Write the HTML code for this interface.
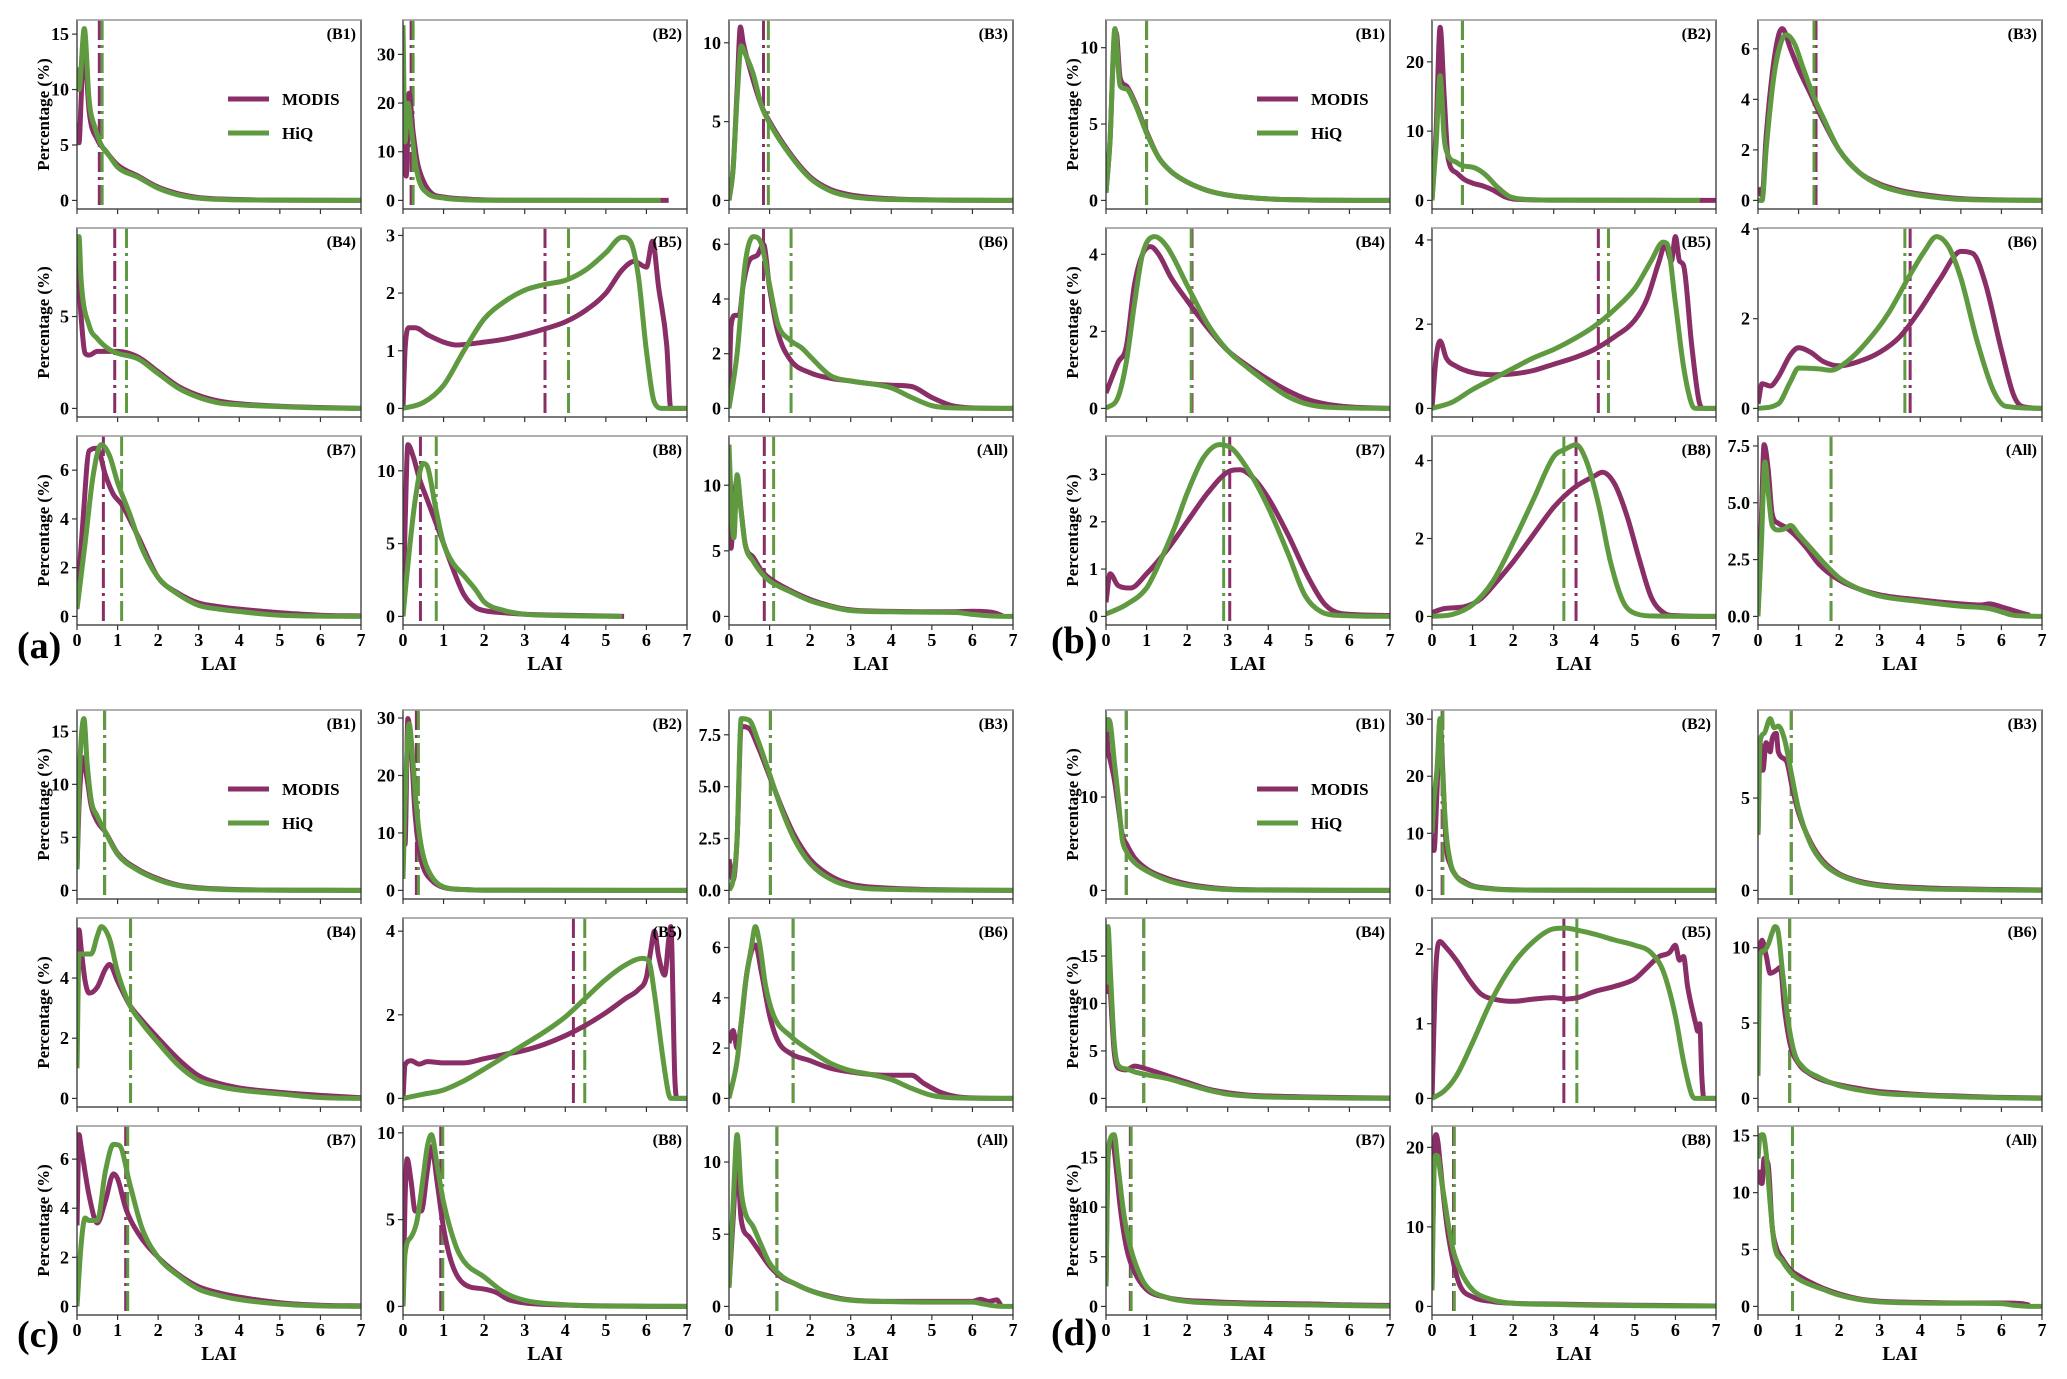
<!DOCTYPE html>
<html><head><meta charset="utf-8"><title>LAI distributions</title>
<style>
html,body{margin:0;padding:0;background:#fff;}
svg{display:block;font-family:"Liberation Serif",serif;font-weight:bold;}
</style></head>
<body>
<svg id="fig" width="2067" height="1379" viewBox="0 0 2067 1379" xmlns="http://www.w3.org/2000/svg"></svg>
<script>
// ---------- data ----------
const subplotNames = ["B1","B2","B3","B4","B5","B6","B7","B8","All"];
const panelNames = ["a","b","c","d"];
const xTicks = [0,1,2,3,4,5,6,7];

// y data maximum per subplot (axis spans -5% .. +105%)
const yMaxA = [15.5,35.3,10.9,9.35,2.98,6.28,7.05,11.8,13.1];
const yMaxB = [11.25,24.8,6.8,4.46,4.08,3.83,3.63,4.41,7.56];
const yMaxC = [16.2,29.9,8.28,5.71,4.11,6.83,7.0,9.9,11.9];
const yMaxD = [18.4,30.1,9.3,18.1,2.3,11.4,17.3,21.6,15.1];

const yTicksA = [[0,5,10,15],[0,10,20,30],[0,5,10],[0,5],[0,1,2,3],[0,2,4,6],[0,2,4,6],[0,5,10],[0,5,10]];
const yTicksB = [[0,5,10],[0,10,20],[0,2,4,6],[0,2,4],[0,2,4],[0,2,4],[0,1,2,3],[0,2,4],["0.0","2.5","5.0","7.5"]];
const yTicksC = [[0,5,10,15],[0,10,20,30],["0.0","2.5","5.0","7.5"],[0,2,4],[0,2,4],[0,2,4,6],[0,2,4,6],[0,5,10],[0,5,10]];
const yTicksD = [[0,10],[0,10,20,30],[0,5],[0,5,10,15],[0,1,2],[0,5,10],[0,5,10,15],[0,10,20],[0,5,10,15]];

const vlineModisA = [0.55,0.2,0.85,0.93,3.5,0.85,0.65,0.43,0.87];
const vlineHiqA   = [0.62,0.25,0.97,1.22,4.08,1.53,1.1,0.82,1.1];
const vlineModisB = [1.0,0.75,1.43,2.12,4.1,3.75,3.05,3.55,1.8];
const vlineHiqB   = [1.0,0.75,1.38,2.1,4.35,3.62,2.9,3.25,1.8];
const vlineModisC = [0.68,0.33,1.02,1.32,4.2,1.58,1.2,0.93,1.18];
const vlineHiqC   = [0.68,0.38,1.02,1.32,4.48,1.58,1.25,0.98,1.18];
const vlineModisD = [0.5,0.25,0.82,0.93,3.25,0.78,0.6,0.53,0.85];
const vlineHiqD   = [0.5,0.27,0.82,0.93,3.57,0.78,0.62,0.55,0.85];

// curves: flat [lai, percent, lai, percent, ...]
const modisA = [
 [0,7,0.05,5.2,0.1,9,0.15,13,0.22,12,0.3,8,0.5,5.5,0.7,4.5,1,3.2,1.5,2.2,2,1.2,2.5,0.6,3,0.25,4,0.08,5,0.03,7,0],
 [0,12,0.08,5,0.15,22,0.25,14,0.35,8,0.5,4,0.7,1.5,1,0.7,1.5,0.3,2,0.1,3,0.02,6.55,0],
 [0,0,0.1,2,0.2,7,0.28,11,0.35,10,0.5,8.5,0.8,6,1,5,1.5,3,2,1.5,2.5,0.7,3,0.35,4,0.1,5,0.03,7,0],
 [0,8.5,0.1,5,0.2,3,0.3,2.9,0.5,3.1,1,3.1,1.5,2.8,2,2,2.5,1.2,3,0.7,3.5,0.4,4,0.25,5,0.12,6,0.05,7,0],
 [0,0,0.05,1,0.15,1.4,0.3,1.4,0.6,1.28,1,1.15,1.3,1.1,2,1.15,2.5,1.2,3,1.28,3.5,1.38,4,1.5,4.5,1.7,5,2,5.4,2.4,5.7,2.55,6,2.45,6.15,2.9,6.3,2.1,6.5,1.1,6.6,0,7,0],
 [0,0.3,0.05,3,0.15,3.4,0.25,3.4,0.35,4.5,0.5,5.4,0.7,5.6,0.85,6,1,4.4,1.2,2.8,1.5,1.8,2,1.3,2.5,1.1,3,1,3.5,0.9,4,0.85,4.5,0.8,5,0.4,5.5,0.1,6,0.02,7,0],
 [0,0.5,0.15,4,0.3,6.8,0.5,6.9,0.7,5.8,0.9,5,1.1,4.6,1.5,3.3,2,1.6,2.5,0.95,3,0.55,3.5,0.4,4,0.3,5,0.15,6,0.05,7,0.02],
 [0,0,0.05,6,0.12,11.8,0.25,11,0.4,9.5,0.6,8,0.8,6.5,1,5,1.2,3.5,1.5,1.5,1.8,0.6,2,0.4,2.5,0.25,3,0.15,4,0.08,5,0.03,5.45,0],
 [0,8,0.05,5.2,0.12,8.5,0.2,10.5,0.3,8,0.4,5.5,0.6,4.5,0.8,3.5,1,2.9,1.5,2,2,1.3,2.5,0.8,3,0.5,4,0.38,5,0.35,5.5,0.35,6,0.4,6.2,0.38,6.5,0.3,6.7,0.1,6.75,0]
];
const hiqA = [
 [0,12,0.05,10,0.18,15.5,0.3,9,0.45,6.5,0.6,5,0.8,4,1,3,1.5,2.1,2,1.1,2.5,0.5,3,0.2,4,0.05,7,0],
 [0,36,0.05,12,0.12,20,0.2,15,0.3,8,0.4,4,0.6,1.5,1,0.5,1.5,0.15,2,0.05,6.35,0],
 [0,0,0.1,2,0.2,6.5,0.3,9.8,0.4,9.3,0.6,8,0.8,6,1,4.9,1.5,2.9,2,1.4,2.5,0.6,3,0.25,4,0.06,7,0],
 [0,9,0.05,9.35,0.1,7,0.3,4.5,0.5,3.8,0.8,3.2,1,3,1.5,2.7,2,1.9,2.5,1.1,3,0.6,3.5,0.3,4,0.2,5,0.1,6,0.03,7,0],
 [0,0,0.5,0.1,1,0.4,1.5,1,2,1.55,2.5,1.85,3,2.05,3.5,2.15,4,2.22,4.5,2.4,5,2.7,5.4,2.97,5.6,2.9,5.8,2.3,6,1,6.2,0.1,6.4,0,7,0],
 [0,0,0.2,2,0.4,5.3,0.6,6.28,0.8,6,1,4.5,1.2,3.1,1.5,2.5,1.8,2.2,2,1.9,2.5,1.2,3,1,3.5,0.9,4,0.75,4.5,0.4,5,0.1,5.5,0.02,7,0],
 [0,0.3,0.2,3,0.4,5.8,0.6,7.05,0.8,6.6,1,5.5,1.3,4.2,1.6,2.8,2,1.6,2.5,0.9,3,0.45,3.5,0.3,4,0.2,5,0.05,7,0],
 [0,0,0.1,3,0.3,8,0.5,10.5,0.6,10.3,0.8,7.5,1,5,1.2,3.8,1.5,2.8,1.8,1.8,2,1,2.5,0.4,3,0.15,4,0.05,5.4,0],
 [0,13.1,0.05,9,0.12,6,0.2,10.8,0.3,8,0.4,5.5,0.6,4.2,0.8,3.3,1,2.7,1.5,1.9,2,1.2,2.5,0.75,3,0.45,4,0.35,5,0.32,5.6,0.3,6,0.15,6.5,0.03,7,0]
];
const modisB = [
 [0,0.5,0.1,4,0.2,10.5,0.25,11,0.35,8,0.5,7.5,0.7,6.5,1,4.5,1.3,2.8,1.6,1.9,2,1.2,2.5,0.65,3,0.35,4,0.1,5,0.03,7,0],
 [0,0,0.1,10,0.2,25,0.3,15,0.4,6,0.6,4,0.8,3,1,2.5,1.3,2,1.5,1.5,1.8,0.5,2,0.2,3,0.05,7,0],
 [0,0.5,0.1,0.2,0.2,2.5,0.35,5,0.5,6.5,0.6,6.8,0.8,6,1,5.2,1.3,4.2,1.5,3.5,2,2,2.5,1.1,3,0.65,3.5,0.4,4,0.25,5,0.07,6,0.02,7,0],
 [0,0.4,0.3,1.2,0.5,1.6,0.7,3.2,0.9,4,1.1,4.2,1.3,4,1.6,3.4,2,2.8,2.5,2.1,3,1.5,3.5,1.1,4,0.75,4.5,0.45,5,0.22,5.5,0.1,6,0.04,7,0],
 [0,0,0.1,1.2,0.2,1.6,0.35,1.2,0.6,1,1,0.85,1.5,0.8,2,0.82,2.5,0.9,3,1.05,3.5,1.2,4,1.4,4.5,1.7,5,2.1,5.3,2.6,5.6,3.5,5.75,3.9,5.9,3.5,6,4.08,6.1,3.5,6.2,3.4,6.4,1.5,6.6,0.1,6.7,0,7,0],
 [0,0.1,0.1,0.55,0.3,0.5,0.5,0.7,0.8,1.2,1,1.35,1.3,1.25,1.6,1.05,2,0.95,2.5,1.05,3,1.25,3.5,1.6,4,2.2,4.5,2.9,5,3.5,5.3,3.45,5.6,2.8,6,1.3,6.3,0.3,6.5,0.05,7,0],
 [0,0.3,0.1,0.9,0.3,0.65,0.6,0.6,1,0.9,1.5,1.4,2,2,2.5,2.6,3,3.05,3.3,3.1,3.6,2.95,4,2.5,4.5,1.7,5,0.8,5.4,0.25,5.8,0.06,7,0.02],
 [0,0.1,0.3,0.2,0.8,0.25,1.2,0.45,1.6,0.9,2,1.4,2.5,2.1,3,2.8,3.5,3.3,4,3.6,4.2,3.7,4.5,3.4,4.8,2.6,5.1,1.5,5.4,0.5,5.7,0.1,6,0.02,7,0],
 [0,0.5,0.08,4,0.15,7.56,0.25,6.5,0.35,4.5,0.5,4.1,0.7,3.9,0.9,3.6,1.2,3,1.5,2.3,2,1.6,2.5,1.2,3,0.95,4,0.72,5,0.55,5.5,0.5,5.7,0.55,6,0.42,6.5,0.15,6.7,0.05]
];
const hiqB = [
 [0,0.5,0.1,4,0.22,11.25,0.35,7.5,0.5,7.3,0.7,6.4,1,4.4,1.3,2.8,1.6,1.9,2,1.2,2.5,0.65,3,0.35,4,0.1,5,0.03,7,0],
 [0,0,0.1,8,0.2,18,0.3,9,0.4,6.5,0.6,5.5,0.75,5,1,4.8,1.3,3.8,1.6,2,1.9,0.6,2.2,0.2,3,0.05,6.6,0],
 [0,0,0.1,0,0.2,2,0.4,5,0.6,6.4,0.7,6.55,0.9,6.2,1.1,5.3,1.4,4,1.6,3.3,2,2,2.5,1.1,3,0.6,3.5,0.35,4,0.2,5,0.04,7,0],
 [0,0,0.3,0.3,0.5,1.2,0.7,2.7,0.9,4,1.2,4.46,1.5,4.2,2,3.2,2.5,2.2,3,1.5,3.5,1.05,4,0.65,4.5,0.3,5,0.1,5.5,0.03,7,0],
 [0,0,0.5,0.15,1,0.45,1.5,0.7,2,0.95,2.5,1.2,3,1.4,3.5,1.65,4,1.95,4.5,2.35,5,2.85,5.4,3.5,5.7,3.95,5.8,3.9,6,2.5,6.2,1,6.4,0.1,6.5,0,7,0],
 [0,0,0.5,0.1,0.8,0.6,1,0.9,1.5,0.88,1.8,0.85,2.2,1.05,2.7,1.5,3.2,2.1,3.7,2.9,4.1,3.5,4.4,3.83,4.7,3.6,5,2.9,5.4,1.5,5.8,0.4,6.1,0.05,7,0],
 [0,0.05,0.5,0.25,1,0.6,1.3,1.1,1.7,1.9,2,2.6,2.4,3.35,2.8,3.63,3.1,3.55,3.5,3.1,4,2.3,4.5,1.3,4.9,0.45,5.3,0.1,5.8,0.02,7,0],
 [0,0,0.5,0.05,1,0.3,1.5,0.9,2,1.9,2.5,3,3,4.1,3.3,4.3,3.55,4.41,3.8,4,4.1,2.9,4.4,1.4,4.7,0.4,5,0.08,5.5,0.01,7,0],
 [0,0,0.08,3,0.17,6.8,0.25,5.5,0.35,4,0.5,3.8,0.65,3.85,0.8,4,1,3.6,1.3,3,1.6,2.4,2,1.7,2.5,1.2,3,0.9,4,0.65,5,0.45,5.7,0.35,6,0.2,6.3,0.05,7,0]
];
const modisC = [
 [0,2,0.05,8,0.15,12.5,0.25,10.5,0.35,8,0.5,6.5,0.7,5.5,1,3.5,1.5,2,2,1.1,2.5,0.5,3,0.25,4,0.08,7,0],
 [0,10,0.05,8,0.12,29.9,0.2,25,0.3,13,0.4,7,0.5,4,0.7,1.8,1,0.5,1.5,0.15,2,0.05,7,0],
 [0,1.5,0.1,0.5,0.2,2.5,0.3,7.9,0.5,7.8,0.7,7,1,5.5,1.3,4,1.6,2.7,2,1.5,2.5,0.7,3,0.3,4,0.1,5,0.04,7,0],
 [0,3.5,0.05,5.6,0.1,5,0.2,3.9,0.3,3.5,0.5,3.7,0.7,4.3,0.8,4.45,1,3.9,1.3,3.1,1.6,2.6,2,2,2.5,1.3,3,0.75,3.5,0.5,4,0.35,5,0.2,6,0.1,7,0.02],
 [0,0,0.05,0.8,0.2,0.9,0.4,0.82,0.6,0.88,1,0.85,1.5,0.85,2,0.95,2.5,1.05,3,1.15,3.5,1.3,4,1.5,4.5,1.75,5,2.05,5.5,2.4,5.8,2.6,6,2.9,6.1,3.5,6.2,4,6.3,3.4,6.45,2.95,6.55,3.8,6.6,4.11,6.7,0.5,6.75,0,7,0],
 [0,2.2,0.1,2.7,0.2,2,0.3,3,0.45,5.1,0.65,6.1,0.8,5,1,3.3,1.2,2.3,1.5,1.8,2,1.5,2.5,1.2,3,1.05,3.5,0.95,4,0.92,4.5,0.92,4.8,0.6,5.2,0.25,5.6,0.07,6,0.02,7,0],
 [0,3.3,0.05,7,0.1,6.5,0.3,4.5,0.5,3.4,0.7,4.3,0.9,5.4,1,5.2,1.2,4,1.5,3,2,2,2.5,1.3,3,0.8,3.5,0.55,4,0.38,5,0.15,6,0.05,7,0.02],
 [0,0,0.05,6,0.1,8.5,0.2,7.2,0.3,5.5,0.45,5.5,0.6,7.8,0.7,9.2,0.85,7,1,4.5,1.2,2.5,1.5,1.3,2,1,2.3,0.8,2.6,0.4,3,0.2,4,0.08,5,0.03,7,0],
 [0,1.3,0.1,6,0.2,10,0.3,6,0.5,4.8,0.7,4,1,2.8,1.3,2,1.6,1.6,2,1.1,2.5,0.7,3,0.45,4,0.35,5,0.35,6,0.35,6.2,0.5,6.4,0.35,6.6,0.45,6.7,0.1]
];
const hiqC = [
 [0,2,0.05,10,0.17,16.2,0.25,12,0.35,8.5,0.5,7,0.7,5.5,1,3.4,1.5,1.9,2,1,2.5,0.45,3,0.2,4,0.05,7,0],
 [0,2,0.05,15,0.15,29,0.25,22,0.3,17,0.4,10,0.5,6,0.7,2.5,1,0.6,1.5,0.15,2,0.03,7,0],
 [0,0,0.1,0.5,0.2,2.5,0.3,8.28,0.5,8.2,0.7,7.3,1,5.6,1.3,3.9,1.6,2.5,2,1.3,2.5,0.55,3,0.2,4,0.05,7,0],
 [0,1,0.05,4.8,0.2,4.8,0.35,4.8,0.5,5.4,0.6,5.71,0.8,5.3,1,4.2,1.3,3.1,1.6,2.5,2,1.85,2.5,1.1,3,0.6,3.5,0.4,4,0.28,5,0.15,6,0.03,7,0],
 [0,0,0.5,0.1,1,0.2,1.5,0.42,2,0.7,2.5,1,3,1.3,3.5,1.6,4,1.95,4.5,2.4,5,2.85,5.5,3.2,5.9,3.35,6.05,3.3,6.2,2.5,6.4,1,6.55,0.1,6.6,0,7,0],
 [0,0,0.2,1.5,0.4,4.5,0.55,6,0.65,6.83,0.75,6.2,0.9,4.5,1.1,3.3,1.5,2.5,2,1.9,2.5,1.4,3,1.1,3.5,0.95,4,0.75,4.5,0.4,5,0.12,5.5,0.03,7,0],
 [0,0,0.1,2.5,0.2,3.6,0.3,3.5,0.5,3.5,0.7,5.5,0.9,6.6,1.05,6.55,1.3,5,1.6,3.2,2,2,2.5,1.25,3,0.7,3.5,0.45,4,0.28,5,0.1,6,0.02,7,0],
 [0,0,0.05,3,0.2,4,0.35,5,0.5,7.5,0.6,9.2,0.7,9.9,0.85,8,1,6,1.3,3.5,1.5,2.6,2,1.7,2.5,0.8,3,0.35,4,0.1,5,0.02,7,0],
 [0,1.3,0.1,7,0.2,11.9,0.3,8,0.4,6.5,0.6,5.5,0.8,4.2,1,3,1.3,2.1,1.6,1.6,2,1.1,2.5,0.65,3,0.42,4,0.33,5,0.3,6,0.3,6.3,0.15,6.6,0.02,7,0]
];
const modisD = [
 [0,18.4,0.05,15,0.1,14,0.2,12,0.3,9,0.4,6,0.5,5,0.7,3.5,1,2.3,1.5,1.3,2,0.7,2.5,0.35,3,0.15,4,0.05,7,0],
 [0,8,0.05,7,0.12,17,0.2,30,0.27,20,0.35,8,0.45,4.5,0.6,2.5,0.8,1.5,1,0.8,1.5,0.3,2,0.1,3,0.03,7,0],
 [0,3,0.05,8,0.12,6.5,0.2,8,0.3,7.5,0.35,8.2,0.45,8.5,0.5,7.5,0.7,7,0.85,5.5,1,4.2,1.3,2.6,1.6,1.6,2,0.9,2.5,0.5,3,0.3,4,0.15,5,0.08,6,0.05,7,0.02],
 [0,11,0.05,16.5,0.1,12,0.2,5,0.3,3.2,0.5,3,0.7,3.4,1,3.1,1.5,2.4,2,1.7,2.5,1,3,0.6,3.5,0.35,4,0.25,5,0.15,6,0.08,7,0.03],
 [0,0,0.1,1.8,0.2,2.1,0.3,2.05,0.6,1.85,0.9,1.6,1.2,1.4,1.6,1.32,2,1.3,2.5,1.33,3,1.35,3.3,1.33,3.6,1.35,4,1.43,4.5,1.5,5,1.6,5.3,1.75,5.6,1.9,5.85,1.95,6,2.05,6.1,1.85,6.2,1.9,6.3,1.5,6.5,1,6.55,0.9,6.6,1,6.65,0.3,6.7,0,7,0],
 [0,9.5,0.1,10.5,0.2,9.5,0.3,8.3,0.45,8.5,0.55,8.7,0.65,6,0.8,3.5,1,2.3,1.3,1.6,1.6,1.2,2,0.9,2.5,0.65,3,0.45,3.5,0.35,4,0.25,5,0.15,6,0.07,7,0.03],
 [0,2,0.05,15,0.15,17,0.25,14,0.35,10,0.5,6,0.7,3.5,1,1.7,1.5,0.9,2,0.6,2.5,0.5,3,0.4,4,0.3,5,0.25,6,0.15,7,0.1],
 [0,2,0.05,19,0.1,21.6,0.15,20.5,0.2,18,0.3,13,0.4,9,0.55,5,0.7,2.5,1,1.2,1.5,0.6,2,0.4,3,0.3,4,0.2,5,0.15,6,0.1,7,0.05],
 [0,12,0.05,11,0.1,10.8,0.15,13,0.25,12.5,0.35,7,0.45,5.2,0.6,4.2,0.8,3.2,1,2.7,1.3,2.1,1.6,1.6,2,1.1,2.5,0.65,3,0.45,4,0.35,5,0.3,5.5,0.3,6,0.3,6.5,0.25,6.7,0.1]
];
const hiqD = [
 [0,17,0.05,18.3,0.1,18,0.2,14,0.3,10,0.4,5.5,0.5,4.2,0.7,3,1,2.1,1.5,1.1,2,0.55,2.5,0.25,3,0.1,4,0.03,7,0],
 [0,10,0.05,16,0.12,21,0.2,30.1,0.25,22,0.35,10,0.45,5,0.6,2.5,0.8,1.3,1,0.7,1.5,0.25,2,0.08,7,0],
 [0,3,0.05,8,0.15,8.5,0.3,9.3,0.4,8.8,0.5,8.9,0.65,8.2,0.85,6,1,4.4,1.3,2.5,1.6,1.5,2,0.85,2.5,0.45,3,0.25,4,0.1,5,0.05,7,0],
 [0,12,0.05,18.1,0.1,14,0.2,6,0.3,3.5,0.5,3.1,0.7,2.8,1,2.5,1.5,2.1,2,1.5,2.5,0.9,3,0.45,3.5,0.25,4,0.15,5,0.08,6,0.03,7,0],
 [0,0,0.3,0.1,0.6,0.3,1,0.75,1.5,1.35,2,1.8,2.5,2.1,3,2.27,3.3,2.28,3.6,2.25,4,2.2,4.5,2.12,5,2.05,5.4,1.95,5.7,1.7,6,1.1,6.2,0.5,6.4,0.05,6.5,0,7,0],
 [0,1.5,0.05,9.5,0.15,9.8,0.25,10.2,0.35,11,0.42,11.4,0.5,11,0.6,8.5,0.75,5,0.9,3,1.1,2.1,1.5,1.4,2,0.85,2.5,0.55,3,0.35,4,0.2,5,0.1,6,0.04,7,0],
 [0,2,0.05,15.5,0.2,17.3,0.3,14,0.45,9,0.6,6,0.8,3.5,1,2,1.5,0.9,2,0.5,3,0.3,4,0.2,5,0.15,6,0.08,7,0.03],
 [0,2,0.05,17,0.1,19,0.15,18.8,0.2,17,0.35,12,0.5,7.5,0.7,4.5,1,2.1,1.5,0.8,2,0.4,3,0.25,4,0.15,5,0.1,7,0.05],
 [0,13,0.05,15,0.12,15.1,0.2,13.5,0.3,9,0.4,5.5,0.6,4,0.8,3,1,2.4,1.3,1.9,1.6,1.5,2,1,2.5,0.6,3,0.4,4,0.3,5,0.28,6,0.25,6.3,0.1,6.6,0.02,7,0]
];

const panels = [
 {name:"a", ymax:yMaxA, ticks:yTicksA, vm:vlineModisA, vh:vlineHiqA, m:modisA, h:hiqA},
 {name:"b", ymax:yMaxB, ticks:yTicksB, vm:vlineModisB, vh:vlineHiqB, m:modisB, h:hiqB},
 {name:"c", ymax:yMaxC, ticks:yTicksC, vm:vlineModisC, vh:vlineHiqC, m:modisC, h:hiqC},
 {name:"d", ymax:yMaxD, ticks:yTicksD, vm:vlineModisD, vh:vlineHiqD, m:modisD, h:hiqD}
];

// ---------- layout ----------
const PX = [0, 1029], PY = [0, 690];
const COLX = [77, 403, 729], ROWY = [20, 228, 436];
const W = 284, H = 189;
const MC = "#8a2e68", HC = "#5f9a41";
const NS = "http://www.w3.org/2000/svg";
const svg = document.getElementById("fig");

function el(tag, attrs, parent, text) {
  const e = document.createElementNS(NS, tag);
  for (const k in attrs) e.setAttribute(k, attrs[k]);
  if (text !== undefined) e.textContent = text;
  (parent || svg).appendChild(e);
  return e;
}

// monotone cubic path through screen points
function smoothPath(P) {
  const n = P.length;
  if (n < 3) return "M" + P.map(p => p[0].toFixed(1) + "," + p[1].toFixed(1)).join("L");
  const d = [], m = new Array(n).fill(0);
  for (let i = 0; i < n - 1; i++) {
    const dx = P[i + 1][0] - P[i][0];
    d.push(dx === 0 ? 0 : (P[i + 1][1] - P[i][1]) / dx);
  }
  m[0] = d[0]; m[n - 1] = d[n - 2];
  for (let i = 1; i < n - 1; i++) m[i] = (d[i - 1] * d[i] <= 0) ? 0 : (d[i - 1] + d[i]) / 2;
  for (let i = 0; i < n - 1; i++) {
    if (d[i] === 0) { m[i] = 0; m[i + 1] = 0; continue; }
    const a = m[i] / d[i], b = m[i + 1] / d[i], s = a * a + b * b;
    if (s > 9) { const t = 3 / Math.sqrt(s); m[i] = t * a * d[i]; m[i + 1] = t * b * d[i]; }
  }
  let s = "M" + P[0][0].toFixed(1) + "," + P[0][1].toFixed(1);
  for (let i = 0; i < n - 1; i++) {
    const h = (P[i + 1][0] - P[i][0]) / 3;
    s += "C" + (P[i][0] + h).toFixed(1) + "," + (P[i][1] + m[i] * h).toFixed(1) + " " +
         (P[i + 1][0] - h).toFixed(1) + "," + (P[i + 1][1] - m[i + 1] * h).toFixed(1) + " " +
         P[i + 1][0].toFixed(1) + "," + P[i + 1][1].toFixed(1);
  }
  return s;
}

const labelPos = [[17, 658], [1051, 653], [17, 1347], [1051, 1345]];

panels.forEach((p, pi) => {
  const ox = PX[pi % 2], oy = PY[Math.floor(pi / 2)];
  const pg = el("g", {});
  
  
  const lb = el("text", {x: labelPos[pi][0], y: labelPos[pi][1], "font-size": 38}, pg, "(" + p.name + ")");
  
  

  for (let i = 0; i < 9; i++) {
    const r = Math.floor(i / 3), c = i % 3;
    const L = ox + COLX[c], T = oy + ROWY[r];
    const M = p.ymax[i];
    const y0 = -0.05 * M, y1 = 1.05 * M;
    const sx = v => L + v / 7 * W;
    const sy = v => T + H - (v - y0) / (y1 - y0) * H;
    const g = el("g", {}, pg);
    
    
    const clipId = "clip" + pi + "_" + i;
    const cp = el("clipPath", {id: clipId}, g);
    el("rect", {x: L, y: T, width: W, height: H}, cp);

    [[p.vm[i], MC, 'modis'], [p.vh[i], HC, 'hiq']].forEach(v => {
      const ln = el("line", {x1: sx(v[0]), x2: sx(v[0]), y1: T, y2: T + H, stroke: v[1], "stroke-width": 3, "stroke-dasharray": "20 5 3 5", "clip-path": "url(#" + clipId + ")"}, g);
      
      
    });
    [[p.m[i], MC, 'modis-curve'], [p.h[i], HC, 'hiq-curve']].forEach(s => {
      const d = s[0];
      const pts = [];
      for (let k = 0; k < d.length; k += 2) pts.push([sx(d[k]), sy(d[k + 1])]);
      const pl = el("path", {d: smoothPath(pts), fill: "none", stroke: s[1], "stroke-width": 5, "stroke-linejoin": "round", "stroke-linecap": "butt", "clip-path": "url(#" + clipId + ")"}, g);
      
      
    });
    el("rect", {x: L, y: T, width: W, height: H, fill: "none", stroke: "#333", "stroke-width": 1.3}, g);
    el("line", {x1: L, x2: L + W, y1: T, y2: T, stroke: "#aaa", "stroke-width": 1.6}, g);
    xTicks.forEach(t => {
      el("line", {x1: sx(t), x2: sx(t), y1: T + H, y2: T + H + 5, stroke: "#333", "stroke-width": 1.2}, g);
      if (r === 2) {
        const tx = el("text", {x: sx(t), y: T + H + 21, "font-size": 18, "text-anchor": "middle"}, g, String(t));
        
        
      }
    });
    p.ticks[i].forEach(t => {
      const yv = sy(parseFloat(t));
      el("line", {x1: L - 5, x2: L, y1: yv, y2: yv, stroke: "#333", "stroke-width": 1.2}, g);
      const ty = el("text", {x: L - 8, y: yv + 6, "font-size": 18, "text-anchor": "end"}, g, String(t));
      
      
    });
    const tag = el("text", {x: L + W - 5, y: T + 19, "font-size": 16, "text-anchor": "end"}, g, "(" + subplotNames[i] + ")");
    
    
    if (c === 0) {
      const yl = el("text", {x: 0, y: 0, "font-size": 17, "text-anchor": "middle", transform: "translate(" + (L - 28) + "," + (T + H / 2) + ") rotate(-90)"}, g, "Percentage (%)");
      
      
    }
    if (r === 2) {
      const xl = el("text", {x: L + W / 2, y: T + H + 45, "font-size": 20, "text-anchor": "middle"}, g, "LAI");
      
      
    }
    if (i === 0) {
      const lg = el("g", {}, g);
      
      
      [["MODIS", MC, 79], ["HiQ", HC, 113]].forEach(e => {
        el("line", {x1: L + 151, x2: L + 192, y1: T + e[2], y2: T + e[2], stroke: e[1], "stroke-width": 5}, lg);
        const lt = el("text", {x: L + 205, y: T + e[2] + 6, "font-size": 17}, lg, e[0]);
        
        
      });
    }
  }
});
</script>
</body></html>
